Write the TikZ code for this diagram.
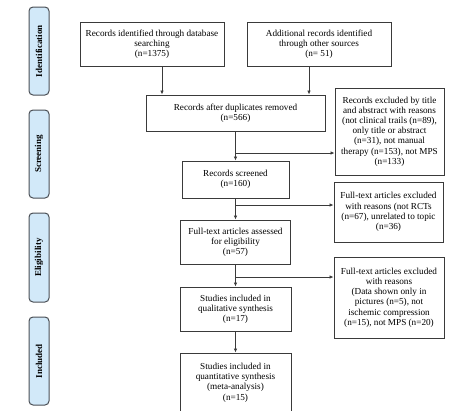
\documentclass[tikz,border=0pt]{standalone}
\usepackage{fontspec}
\setmainfont{Liberation Serif}
\usetikzlibrary{arrows.meta}
\definecolor{sidefill}{HTML}{D2E9F9}
\definecolor{sideline}{HTML}{4A4F55}
\definecolor{boxline}{HTML}{3A3A3A}
\begin{document}
\begin{tikzpicture}[x=1pt,y=-1pt,
  sidebox/.style={draw=sideline,line width=1pt,fill=sidefill,rounded corners=4pt,minimum width=20pt,inner sep=0pt},
  sidelabel/.style={rotate=90,font=\fontsize{9}{10}\selectfont\bfseries},
  flowbox/.style={draw=boxline,line width=0.9pt,inner sep=0pt,align=center,font=\fontsize{9.2}{10.2}\selectfont},
  arr/.style={draw=boxline,line width=0.8pt,-{Latex[length=4pt,width=3.5pt]}}]
\useasboundingbox (0,0) rectangle (474,410);
\clip (0,0) rectangle (474,410);
% side labels
\node[sidebox,minimum height=88pt] (sid) at (39,51) {};
\node[sidelabel] at (sid.center) {Identification};
\node[sidebox,minimum height=88pt] (sscr) at (39,154) {};
\node[sidelabel] at (sscr.center) {Screening};
\node[sidebox,minimum height=89pt] (sel) at (39,257.5) {};
\node[sidelabel] at (sel.center) {Eligibility};
\node[sidebox,minimum height=88pt] (sinc) at (39,361) {};
\node[sidelabel] at (sinc.center) {Included};
% flow boxes
\node[flowbox,minimum width=144pt,minimum height=44pt] (b1) at (152,44) {Records identified through database\\searching\\(n=1375)};
\node[flowbox,minimum width=144pt,minimum height=44pt] (b2) at (319,44) {Additional records identified\\through other sources\\(n= 51)};
\node[flowbox,minimum width=179pt,minimum height=36pt] (dup) at (235.5,113) {Records after duplicates removed\\(n=566)};
\node[flowbox,minimum width=109pt,minimum height=87pt] (ex1) at (389.5,131.5) {Records excluded by title\\and abstract with reasons\\(not clinical trails (n=89),\\only title or abstract\\(n=31), not manual\\therapy (n=153), not MPS\\(n=133)};
\node[flowbox,minimum width=107pt,minimum height=37pt] (scr) at (235.5,179.5) {Records screened\\(n=160)};
\node[flowbox,minimum width=109pt,minimum height=60pt] (ex2) at (388.5,212) {Full-text articles excluded\\with reasons (not RCTs\\(n=67), unrelated to topic\\(n=36)};
\node[flowbox,minimum width=110pt,minimum height=44pt] (ft) at (235.5,242) {Full-text articles assessed\\for eligibility\\(n=57)};
\node[flowbox,minimum width=110pt,minimum height=81pt] (ex3) at (389,297.5) {Full-text articles excluded\\with reasons\\(Data shown only in\\pictures (n=5), not\\ischemic compression\\(n=15), not MPS (n=20)};
\node[flowbox,minimum width=111pt,minimum height=44pt] (qual) at (235.5,309) {Studies included in\\qualitative synthesis\\(n=17)};
\node[flowbox,minimum width=111pt,minimum height=59pt] (quant) at (235.5,382.5) {Studies included in\\quantitative synthesis\\(meta-analysis)\\(n=15)};
% connectors
\coordinate (a1) at (162,0);
\coordinate (a2) at (309,0);
\draw[arr] (b1.south -| a1) -- (dup.north -| a1);
\draw[arr] (b2.south -| a2) -- (dup.north -| a2);
\draw[arr] (dup.south) -- (scr.north);
\coordinate (j1) at (235.5,153);
\draw[arr] (j1) -- (ex1.west |- j1);
\draw[arr] (scr.south) -- (ft.north);
\coordinate (j2) at (235.5,205);
\draw[arr] (j2) -- (ex2.west |- j2);
\draw[arr] (ft.south) -- (qual.north);
\coordinate (j3) at (235.5,277);
\draw[arr] (j3) -- (ex3.west |- j3);
\draw[arr] (qual.south) -- (quant.north);
\end{tikzpicture}
\end{document}
